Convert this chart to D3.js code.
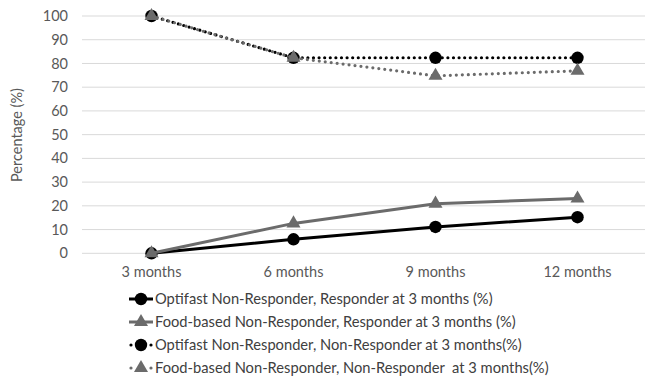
<!DOCTYPE html>
<html><head><meta charset="utf-8">
<script src="https://cdn.jsdelivr.net/npm/d3@7"></script>
<style>
html,body{margin:0;padding:0;background:#fff;}
svg{display:block;font-family:Lato,"Open Sans",sans-serif;}
</style></head>
<body>
<svg id="chart" width="645" height="381"></svg>
<script>
const categories = ["3 months", "6 months", "9 months", "12 months"];
const yTicks = [0, 10, 20, 30, 40, 50, 60, 70, 80, 90, 100];
const seriesNames = [
  "Optifast Non-Responder, Responder at 3 months (%)",
  "Food-based Non-Responder, Responder at 3 months (%)",
  "Optifast Non-Responder, Non-Responder at 3 months(%)",
  "Food-based Non-Responder, Non-Responder  at 3 months(%)"
];
const optifastResp = [0, 5.9, 11.1, 15.2];
const foodResp = [0, 12.6, 20.9, 23.1];
const optifastNonResp = [100, 82.4, 82.4, 82.4];
const foodNonResp = [100, 82.4, 74.8, 76.9];

const styles = [
  {color: "#000000", dash: null, marker: "circle", dotted: false},
  {color: "#6b6b6b", dash: null, marker: "triangle", dotted: false},
  {color: "#000000", dash: "0,5.6", marker: "circle", dotted: true},
  {color: "#6b6b6b", dash: "0,6", marker: "triangle", dotted: true}
];
const allSeries = [optifastResp, foodResp, optifastNonResp, foodNonResp];

const svg = d3.select("#chart");
const x = d3.scalePoint().domain(categories).range([151.5, 577.5]);
const y = d3.scaleLinear().domain([0, 100]).range([253.3, 16]);

// gridlines
svg.append("g").selectAll("line").data(yTicks).join("line")
  .attr("x1", 82).attr("x2", 645)
  .attr("y1", d => y(d)).attr("y2", d => y(d))
  .attr("stroke", "#d9d9d9").attr("stroke-width", 1);

// y tick labels
svg.append("g").selectAll("text").data(yTicks).join("text")
  .attr("x", 68).attr("y", d => y(d)).attr("dy", "0.35em")
  .attr("text-anchor", "end").attr("font-size", 14.5).attr("fill", "#595959")
  .text(d => d);

// x tick labels
svg.append("g").selectAll("text").data(categories).join("text")
  .attr("x", d => x(d)).attr("y", 277)
  .attr("text-anchor", "middle").attr("font-size", 14.5).attr("fill", "#595959")
  .text(d => d);

// axis title
svg.append("text")
  .attr("transform", "translate(22,135) rotate(-90)")
  .attr("text-anchor", "middle").attr("font-size", 14.5).attr("fill", "#595959")
  .text("Percentage (%)");

const tri = d3.symbol().type(d3.symbolTriangle).size(85);

function drawMarker(g, st, cx, cy) {
  if (st.marker === "circle") {
    g.append("circle").attr("cx", cx).attr("cy", cy).attr("r", 6.2).attr("fill", st.color);
  } else {
    g.append("path").attr("d", tri).attr("transform", `translate(${cx},${cy})`).attr("fill", st.color);
  }
}

const line = d3.line().x((d, i) => x(categories[i])).y(d => y(d));

allSeries.forEach((vals, si) => {
  const st = styles[si];
  const g = svg.append("g");
  const p = g.append("path").attr("d", line(vals)).attr("fill", "none")
    .attr("stroke", st.color);
  if (st.dotted) {
    p.attr("stroke-width", 3.2).attr("stroke-dasharray", st.dash).attr("stroke-linecap", "round");
  } else {
    p.attr("stroke-width", 3).attr("stroke-linejoin", "round");
  }
  vals.forEach((v, i) => drawMarker(g, st, x(categories[i]), y(v)));
});

// legend
const legY = [299, 322, 345, 368];
seriesNames.forEach((name, si) => {
  const st = styles[si];
  const g = svg.append("g");
  const ly = legY[si];
  if (st.dotted) {
    g.append("circle").attr("cx", 131).attr("cy", ly).attr("r", 1.6).attr("fill", st.color);
    g.append("circle").attr("cx", 151).attr("cy", ly).attr("r", 1.6).attr("fill", st.color);
  } else {
    g.append("line").attr("x1", 129).attr("x2", 153).attr("y1", ly).attr("y2", ly)
      .attr("stroke", st.color).attr("stroke-width", 3);
  }
  drawMarker(g, st, 141, ly);
  g.append("text").attr("x", 155).attr("y", ly).attr("dy", "0.35em")
    .style("white-space", "pre")
    .attr("font-size", 14.7).attr("fill", "#404040").text(name);
});
</script>
</body></html>
